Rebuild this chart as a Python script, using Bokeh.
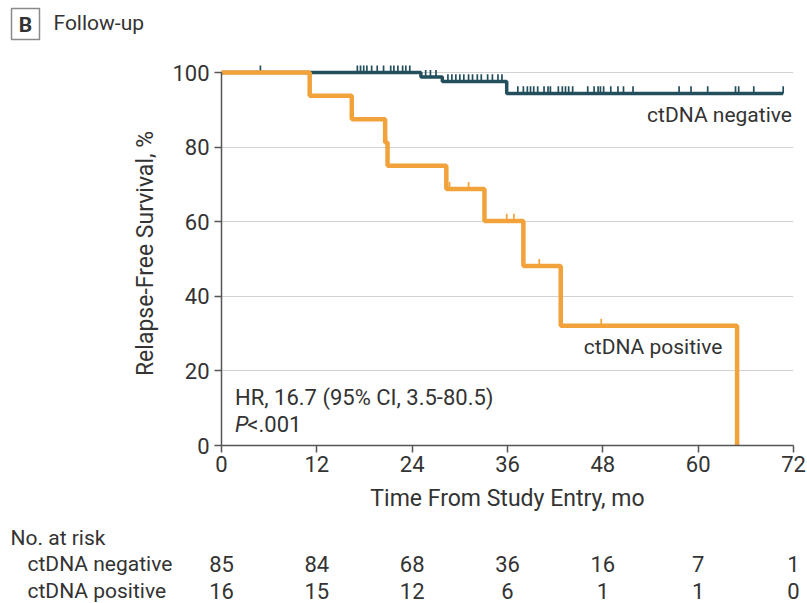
import numpy as np
from bokeh.plotting import figure
from bokeh.layouts import column
from bokeh.models import Range1d, FixedTicker, ColumnDataSource
from bokeh.core.properties import value
from bokeh.embed import file_html
from bokeh.resources import INLINE

# Kaplan-Meier step functions: time (months) and relapse-free survival (%)
pos_time = [0, 11.1, 16.4, 20.6, 20.9, 28.3, 33.1, 38.0, 42.7, 64.9]
pos_surv = [100, 93.75, 87.5, 81.25, 75.0, 68.75, 60.2, 48.1, 32.1, 0]
pos_censor = [20.75, 28.7, 31.1, 35.9, 36.8, 40.0, 47.8]

neg_time = [0, 25.1, 27.8, 35.9, 70.7]
neg_surv = [100, 98.8, 97.6, 94.4, 94.4]
neg_censor = [4.9, 17.1, 17.5, 17.9, 18.3, 18.9, 19.6, 20.4, 21.3, 21.7, 22.2,
              22.8, 23.2, 23.7, 25.7, 26.3, 27.0, 28.5, 29.0, 29.5, 30.0, 30.5,
              31.1, 31.6, 32.2, 32.7, 33.5, 34.1, 34.8, 35.3, 37.3, 38.0, 38.5,
              38.9, 39.3, 39.8, 40.6, 41.1, 41.4, 42.4, 42.9, 43.3, 43.7, 44.2,
              46.1, 46.9, 47.4, 47.7, 48.1, 49.0, 49.9, 50.6, 51.8, 57.6, 59.1,
              61.2, 64.7, 65.1, 67.0, 70.7]

# Number at risk table
risk_groups = ["ctDNA negative", "ctDNA positive"]
risk_months = [0, 12, 24, 36, 48, 60, 72]
risk_neg = [85, 84, 68, 36, 16, 7, 1]
risk_pos = [16, 15, 12, 6, 1, 1, 0]

y_ticks = [0, 20, 40, 60, 80, 100]

NEG_COLOR = "#234f5d"
POS_COLOR = "#f2a23a"
TEXT = "#333333"
FONT = "Roboto"
FS_TEXT = "21px"
FS_NUM = "22px"
FS_AXIS = "23px"

W = 807
LEFT, RIGHT = 221, 14
FW = W - LEFT - RIGHT
X_END = 72
PX_PER_X = FW / X_END

HEAD_H = 50          # heading strip
MAIN_TOP, MAIN_BOTTOM = 11, 75
FH = 384
PX_PER_Y = 373 / 100.0
Y_END = FH / PX_PER_Y
TABLE_H = 603 - HEAD_H - (MAIN_TOP + FH + MAIN_BOTTOM)


def level(times, surv, t):
    i = np.searchsorted(times, t, side="right") - 1
    return surv[i]


def bare(height, x_range, y_range):
    f = figure(width=W, height=height, output_backend="svg",
               toolbar_location=None, x_range=x_range, y_range=y_range,
               x_axis_type=None, y_axis_type=None, min_border=0,
               background_fill_color="white", border_fill_color="white",
               frame_align=False)
    f.outline_line_color = None
    f.xgrid.visible = False
    f.ygrid.visible = False
    return f


# ---- heading: boxed panel letter and title (pixel coordinates, y down)
head = bare(HEAD_H, Range1d(0, W), Range1d(HEAD_H, 0))
head.quad(left=[11], right=[39], top=[8], bottom=[39], fill_color="white",
          line_color="#8a8a8a", line_width=1.5)
head.text(x=[25], y=[24], text=["B"], text_align="center",
          text_baseline="middle", text_font=value(FONT),
          text_font_size=FS_TEXT, text_font_style="bold", text_color=TEXT)
head.text(x=[53], y=[22], text=["Follow-up"], text_align="left",
          text_baseline="middle", text_font=value(FONT),
          text_font_size=FS_TEXT, text_color=TEXT)

# ---- survival plot
p = figure(frame_width=FW, frame_height=FH, output_backend="svg",
           toolbar_location=None, x_range=Range1d(0, X_END),
           y_range=Range1d(0, Y_END), min_border_left=LEFT,
           min_border_right=RIGHT, min_border_top=MAIN_TOP,
           min_border_bottom=MAIN_BOTTOM, background_fill_color="white",
           border_fill_color="white", frame_align=False)
p.outline_line_color = None

p.step(neg_time, neg_surv, mode="after", line_color=NEG_COLOR, line_width=3.5)
neg_lv = [level(neg_time, neg_surv, t) for t in neg_censor]
p.segment(x0=neg_censor, y0=neg_lv, x1=neg_censor,
          y1=[v + 1.9 for v in neg_lv], line_color=NEG_COLOR, line_width=1.7)

p.step(pos_time, pos_surv, mode="after", line_color=POS_COLOR, line_width=4.5)
pos_lv = [level(pos_time, pos_surv, t) for t in pos_censor]
p.segment(x0=pos_censor, y0=pos_lv, x1=pos_censor,
          y1=[v + 1.9 for v in pos_lv], line_color=POS_COLOR, line_width=1.7)

for ax in (p.xaxis, p.yaxis):
    ax.axis_line_color = "#555555"
    ax.axis_line_width = 1.5
    ax.major_tick_line_color = "#555555"
    ax.major_tick_line_width = 1.5
    ax.major_tick_out = 7
    ax.major_tick_in = 0
    ax.minor_tick_line_color = None
    ax.major_label_text_font = FONT
    ax.major_label_text_font_size = FS_NUM
    ax.major_label_text_color = TEXT
    ax.axis_label_text_font = FONT
    ax.axis_label_text_font_size = FS_AXIS
    ax.axis_label_text_font_style = "normal"
    ax.axis_label_text_color = TEXT

p.xaxis.ticker = FixedTicker(ticks=risk_months)
p.xaxis.bounds = (0, X_END)
p.xaxis.axis_label = "Time From Study Entry, mo"
p.xaxis.major_label_standoff = 3
p.xaxis.axis_label_standoff = 10

p.yaxis.ticker = FixedTicker(ticks=y_ticks)
p.yaxis.bounds = (0, 100)
p.yaxis.axis_label = "Relapse-Free Survival, %"
p.yaxis.major_label_standoff = 5
p.yaxis.axis_label_standoff = 10

p.xgrid.grid_line_color = None
p.ygrid.ticker = FixedTicker(ticks=y_ticks)
p.ygrid.grid_line_color = "#d2d2d2"
p.ygrid.grid_line_width = 1


def ptext(x, y, text, align="left", style="normal", size=FS_TEXT):
    p.text(x=[x], y=[y], text=[text], text_align=align,
           text_baseline="middle", text_font=value(FONT),
           text_font_size=size, text_font_style=style, text_color=TEXT)


ptext(X_END - 0.2, 88.6, "ctDNA negative", align="right")
ptext(45.6, 26.5, "ctDNA positive")
ptext(1.7, 12.9, "HR, 16.7 (95% CI, 3.5-80.5)", size=FS_NUM)
ptext(1.7, 5.6, "P", style="italic", size=FS_NUM)
ptext(3.25, 5.6, "<.001", size=FS_NUM)

# ---- number-at-risk table, on the same month scale as the plot
tx0 = -LEFT / PX_PER_X
tx1 = (W - LEFT) / PX_PER_X
table = bare(TABLE_H, Range1d(tx0, tx1), Range1d(TABLE_H, 0))
TROW0 = 603 - TABLE_H


def px_to_month(px):
    return (px - LEFT) / PX_PER_X


table.text(x=[px_to_month(10)], y=[537 - TROW0], text=["No. at risk"],
           text_align="left", text_baseline="middle", text_font=value(FONT),
           text_font_size=FS_TEXT, text_color=TEXT)
for name, counts, row_y in zip(risk_groups, (risk_neg, risk_pos), (563, 590)):
    table.text(x=[px_to_month(27)], y=[row_y - TROW0], text=[name],
               text_align="left", text_baseline="middle",
               text_font=value(FONT), text_font_size=FS_TEXT,
               text_color=TEXT)
    src = ColumnDataSource(dict(x=risk_months,
                                y=[row_y - TROW0] * len(risk_months),
                                t=[str(c) for c in counts]))
    table.text(x="x", y="y", text="t", source=src, text_align="center",
               text_baseline="middle", text_font=value(FONT),
               text_font_size=FS_NUM, text_color=TEXT)

layout = column(head, p, table, spacing=0)
open("out.html", "w").write(file_html(layout, INLINE))
